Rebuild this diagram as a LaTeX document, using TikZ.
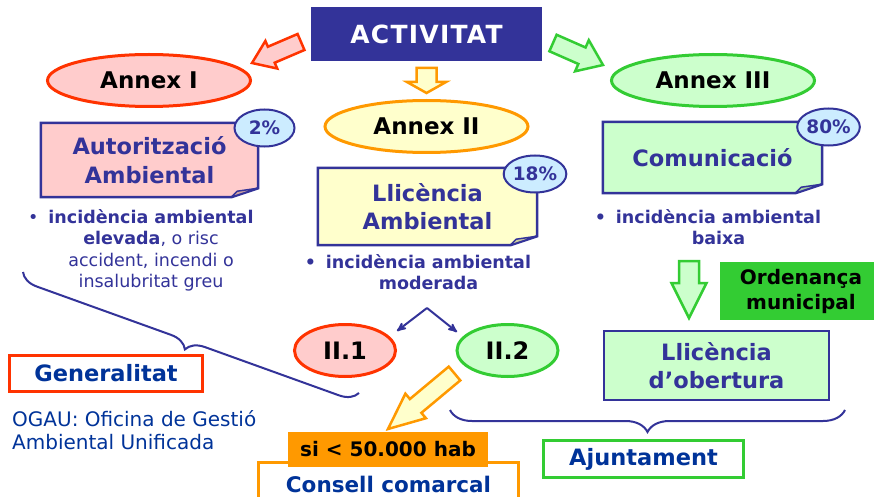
\documentclass[tikz,border=0pt]{standalone}
\usepackage{fontspec}
\setmainfont{DejaVu Sans}
\usepackage{tikz}
\usetikzlibrary{arrows}
\usetikzlibrary{calc}
\usetikzlibrary{shapes.geometric}
\usetikzlibrary{decorations.pathreplacing}
\usetikzlibrary{backgrounds}

\definecolor{dkblue}{HTML}{333399}
\definecolor{txtblue}{HTML}{003399}
\definecolor{redline}{HTML}{FF3300}
\definecolor{pinkfill}{HTML}{FFCCCC}
\definecolor{pinkflap}{HTML}{CCA3A3}
\definecolor{orangeline}{HTML}{FF9900}
\definecolor{yellowfill}{HTML}{FFFFCC}
\definecolor{yellowflap}{HTML}{CCCCA3}
\definecolor{greenline}{HTML}{33CC33}
\definecolor{greenfill}{HTML}{CCFFCC}
\definecolor{greenflap}{HTML}{A3CCA3}
\definecolor{bubblefill}{HTML}{CCECFF}

% block arrow: tail, tip, body half width, head half width, head length, style
\newcommand{\fatarrow}[6]{%
  \coordinate (neck) at ($(#2)!#5!(#1)$);
  \draw[#6] ($(#1)!#3!90:(#2)$) -- ($(neck)!#3!90:(#2)$) -- ($(neck)!#4!90:(#2)$)
    -- (#2) -- ($(neck)!#4!-90:(#2)$) -- ($(neck)!#3!-90:(#2)$) -- ($(#1)!#3!-90:(#2)$) -- cycle;
}
% sheet with a turned corner behind a node: node, fill, flap fill
\newcommand{\foldframe}[3]{%
  \begin{pgfonlayer}{background}
  \draw[docline, fill=#2] (#1.north west) -- (#1.north east) -- ([yshift=9pt]#1.south east)
    -- ([xshift=-27pt]#1.south east) -- (#1.south west) -- cycle;
  \draw[flapline, fill=#3] ([xshift=-27pt]#1.south east) -- ([xshift=-21pt,yshift=6pt]#1.south east)
    -- ([yshift=9pt]#1.south east) -- cycle;
  \end{pgfonlayer}
}

\begin{document}
\begin{tikzpicture}[
    x=1pt, y=-1pt,
    annex/.style={ellipse, line width=3pt, minimum width=203pt, minimum height=52pt, inner sep=0pt,
        font=\fontsize{23}{28}\selectfont\bfseries},
    docbox/.style={align=center, inner sep=0pt, text=dkblue, font=\fontsize{22.5}{28.5}\selectfont\bfseries},
    docline/.style={draw=dkblue, line width=2.5pt},
    flapline/.style={draw=dkblue, line width=1.5pt, line join=round},
    bubble/.style={ellipse, draw=dkblue, fill=bubblefill, line width=2pt, minimum width=60pt,
        minimum height=37pt, inner sep=0pt, text=dkblue, font=\fontsize{18.5}{22}\selectfont\bfseries},
    note/.style={align=center, inner sep=0pt, text=dkblue, font=\fontsize{17.5}{21.5}\selectfont},
    labelbox/.style={draw, line width=3pt, fill=white, inner sep=0pt, text=txtblue,
        font=\fontsize{22.5}{27}\selectfont\bfseries},
    redarrow/.style={draw=redline, fill=pinkfill, line width=2.5pt},
    orangearrow/.style={draw=orangeline, fill=yellowfill, line width=2.5pt},
    greenarrow/.style={draw=greenline, fill=greenfill, line width=2.5pt},
    branch/.style={->, >=stealth', draw=dkblue, line width=2pt},
    brace line/.style={draw=dkblue, line width=2pt, decorate, decoration={brace, mirror, amplitude=#1}}
    ]
    \useasboundingbox (0,0) rectangle (874,497);
    \begin{pgfonlayer}{background}
    \fill[white] (0,0) rectangle (874,497);
    \end{pgfonlayer}

    % top
    \node[fill=dkblue, minimum width=231pt, minimum height=54pt, inner sep=0pt, text=white,
        font=\fontsize{25}{30}\selectfont\bfseries\addfontfeature{LetterSpace=5}] (act) at (426.5,34) {ACTIVITAT};
    \node[annex, draw=redline, fill=pinkfill] (an1) at (149,80.5) {Annex I};
    \node[annex, draw=orangeline, fill=yellowfill] (an2) at (426.5,126.5) {Annex II};
    \node[annex, draw=greenline, fill=greenfill] (an3) at (713,80.5) {Annex III};

    % arrows out of ACTIVITAT
    \coordinate (rtail) at (301,42);   \coordinate (rtip) at (252,63);
    \coordinate (otail) at (426.5,68); \coordinate (otip) at (426.5,93);
    \coordinate (gtail) at (553,43);   \coordinate (gtip) at (603,65);
    \fatarrow{rtail}{rtip}{8.7pt}{15pt}{21pt}{redarrow}
    \fatarrow{otail}{otip}{10pt}{19.5pt}{11pt}{orangearrow}
    \fatarrow{gtail}{gtip}{9pt}{17pt}{23pt}{greenarrow}

    % sheets
    \node[docbox, minimum width=217pt, minimum height=74pt] (autamb) at (149.5,160) {Autorització\\Ambiental};
    \node[docbox, minimum width=219pt, minimum height=77pt] (llamb) at (427.5,206.5) {Llicència\\Ambiental};
    \node[docbox, minimum width=219pt, minimum height=71pt] (comu) at (712.5,157.5) {Comunicació};
    \foldframe{autamb}{pinkfill}{pinkflap}
    \foldframe{llamb}{yellowfill}{yellowflap}
    \foldframe{comu}{greenfill}{greenflap}
    \node[bubble] (pc2) at (264.5,128) {2\%};
    \node[bubble] (pc18) at (535,174) {18\%};
    \node[bubble] (pc80) at (828.5,127) {80\%};

    % notes
    \node[note, anchor=north] (noteI) at (151,209) {\llap{\textbullet\hspace{10pt}}\textbf{incidència ambiental}\\
        \textbf{elevada}, o risc\\accident, incendi o\\insalubritat greu};
    \node[note, anchor=north, font=\fontsize{17.5}{21.5}\selectfont\bfseries] (noteII) at (428.5,254)
        {\llap{\textbullet\hspace{10pt}}incidència ambiental\\moderada};
    \node[note, anchor=north, font=\fontsize{17.5}{21.5}\selectfont\bfseries] (noteIII) at (718.5,209)
        {\llap{\textbullet\hspace{10pt}}incidència ambiental\\baixa};

    % Annex II split
    \node[annex, draw=redline, fill=pinkfill, minimum width=101pt, font=\fontsize{24}{28}\selectfont\bfseries]
        (ii1) at (345,350.5) {II.1};
    \node[annex, draw=greenline, fill=greenfill, minimum width=101pt, font=\fontsize{24}{28}\selectfont\bfseries]
        (ii2) at (507.5,350.5) {II.2};
    \coordinate (apex) at (427,308);
    \coordinate (tipL) at (397,331);
    \coordinate (tipR) at (457,332);
    \draw[branch] (apex) -- (tipL);
    \draw[branch] (apex) -- (tipR);

    % Annex III side
    \coordinate (g2tail) at (689,261); \coordinate (g2tip) at (689,318);
    \fatarrow{g2tail}{g2tip}{10pt}{17.5pt}{35pt}{greenarrow}
    \node[fill=greenline, minimum width=162pt, minimum height=58pt, inner sep=0pt, align=center,
        font=\fontsize{20}{25}\selectfont\bfseries] (ord) at (801,291) {Ordenança\\municipal};
    \node[docbox, draw=dkblue, line width=2.5pt, fill=greenfill, minimum width=225pt, minimum height=69pt]
        (llobert) at (716.5,365.5) {Llicència\\d’obertura};

    % bottom
    \node[labelbox, draw=redline, minimum width=193pt, minimum height=36pt] (gen) at (106,373.5) {Generalitat};
    \node[anchor=north west, align=left, inner sep=0pt, text=txtblue, font=\fontsize{20}{23.5}\selectfont]
        (ogau) at (12,410) {OGAU: Oficina de Gestió\\Ambiental Unificada};
    \node[labelbox, draw=orangeline, minimum width=260pt, minimum height=44pt, font=\fontsize{21.5}{26}\selectfont\bfseries]
        (cons) at (388.5,484) {Consell comarcal};
    \node[fill=orangeline, minimum width=200pt, minimum height=35pt, inner sep=0pt,
        font=\fontsize{20}{24}\selectfont\bfseries] (si) at (388,449.5) {si < 50.000 hab};
    \coordinate (o2tail) at (454.5,373.5); \coordinate (o2tip) at (388,429);
    \fatarrow{o2tail}{o2tip}{9pt}{16pt}{36pt}{orangearrow}
    \node[labelbox, draw=greenline, minimum width=200pt, minimum height=37pt] (ajun) at (643.5,459) {Ajuntament};

    % braces
    \draw[brace line=18pt] (23,272) -- (359,393);
    \draw[brace line=22pt] (450,410) -- (845,410);

\end{tikzpicture}
\end{document}
